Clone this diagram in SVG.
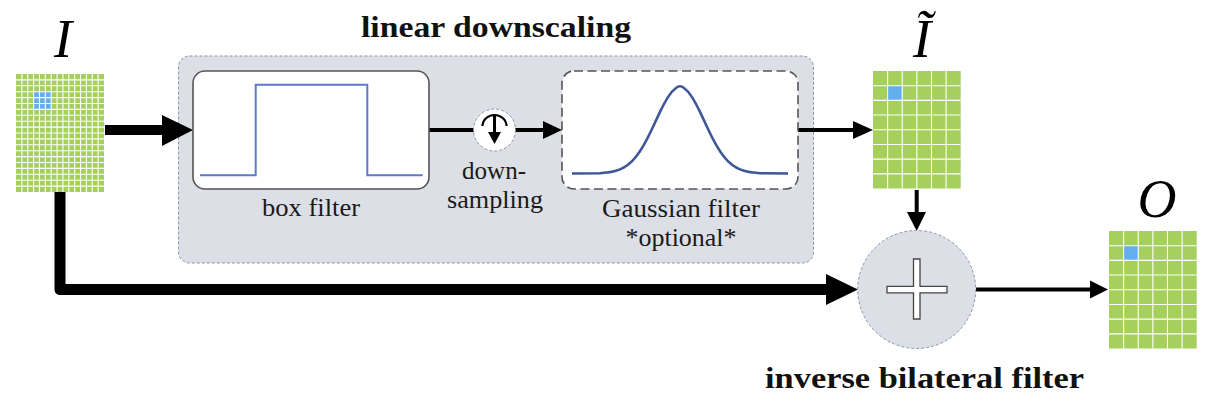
<svg xmlns="http://www.w3.org/2000/svg" width="1212" height="410" viewBox="0 0 1212 410">
<style>
text{font-family:"Liberation Serif","Times New Roman",serif;fill:#1a1a1a;text-anchor:middle}
.lab{font-size:25px}
.head{font-size:29px;font-weight:bold;fill:#111}
.math{font-size:54px;font-style:italic;fill:#000}
.green{fill:#a6d05c}
.blue{fill:#62aeee}
.gl{stroke:#fff;fill:none;stroke-width:1.1}
.panel{fill:#dcdfe6;stroke:#8d94ae;stroke-width:1;stroke-dasharray:3 2}
.box{fill:#fff;stroke:#555;stroke-width:1.6}
.wire{fill:none;stroke:#000;stroke-linejoin:round;stroke-linecap:butt}
.tip{fill:#000}
</style>
<defs>
<path id="coarse" class="gl" d="M14.62 0V117.5M29.24 0V117.5M43.86 0V117.5M58.48 0V117.5M73.1 0V117.5M0 14.69H87.7M0 29.38H87.7M0 44.07H87.7M0 58.76H87.7M0 73.45H87.7M0 88.14H87.7M0 102.83H87.7"/>
</defs>
<g id="panel-linear-downscaling">
<rect class="panel" x="178.5" y="56" width="635" height="207" rx="11"/>
<text class="head" x="496" y="37" textLength="270" lengthAdjust="spacingAndGlyphs">linear downscaling</text>
</g>
<g id="input-I">
<text class="math" x="63" y="57">I</text>
<rect class="green" x="16" y="74" width="88" height="118"/>
<rect class="blue" x="33.6" y="91.7" width="17.6" height="17.7"/>
<path class="gl" d="M21.87 74V192M27.73 74V192M33.6 74V192M39.47 74V192M45.33 74V192M51.2 74V192M57.07 74V192M62.93 74V192M68.8 74V192M74.67 74V192M80.53 74V192M86.4 74V192M92.27 74V192M98.13 74V192M16 79.9H104M16 85.8H104M16 91.7H104M16 97.6H104M16 103.5H104M16 109.4H104M16 115.3H104M16 121.2H104M16 127.1H104M16 133H104M16 138.9H104M16 144.8H104M16 150.7H104M16 156.6H104M16 162.5H104M16 168.4H104M16 174.3H104M16 180.2H104M16 186.1H104"/>
</g>
<g id="connectors">
<path class="wire" stroke-width="10" d="M105 130H165"/>
<polygon class="tip" points="162,115 193,130 162,146"/>
<path class="wire" stroke-width="11" d="M60 192V289.5H830"/>
<polygon class="tip" points="826,274 858,289.5 826,305"/>
<path class="wire" stroke-width="4" d="M429 130H474M515 130H545"/>
<polygon class="tip" points="543,121 562,130 543,139"/>
<path class="wire" stroke-width="4" d="M798 130H855"/>
<polygon class="tip" points="853,121 873,130 853,139"/>
<path class="wire" stroke-width="4" d="M916.7 190V214"/>
<polygon class="tip" points="907,212 926,212 916.7,231"/>
<path class="wire" stroke-width="4" d="M976 289.5H1092"/>
<polygon class="tip" points="1090,280.5 1108,289.5 1090,298.5"/>
</g>
<g id="box-filter">
<rect class="box" x="193" y="71" width="236" height="118" rx="12"/>
<path d="M200 175.3H255.7V84.7H367.3V175.3H422.7" fill="none" stroke="#5b7bc8" stroke-width="2"/>
<text class="lab" x="311" y="216" textLength="98" lengthAdjust="spacingAndGlyphs">box filter</text>
</g>
<g id="down-sampling">
<circle cx="494.5" cy="130" r="21" fill="#fff" stroke="#8d94ae" stroke-width="1" stroke-dasharray="3 2"/>
<path d="M482.5 126A12 11 0 0 1 506.5 126" fill="none" stroke="#000" stroke-width="2.2"/>
<path d="M494.5 116V135" fill="none" stroke="#000" stroke-width="3"/>
<polygon class="tip" points="488,132 501,132 494.5,144"/>
<text class="lab" x="494" y="179" textLength="64" lengthAdjust="spacingAndGlyphs">down-</text>
<text class="lab" x="495" y="208" textLength="96" lengthAdjust="spacingAndGlyphs">sampling</text>
</g>
<g id="gaussian-filter">
<rect class="box" x="562" y="71" width="236" height="118" rx="12" stroke-dasharray="9 4.5"/>
<path fill="none" stroke="#3f5699" stroke-width="2.6" d="M572 173.5L600 173.2Q608 172.5 612 171.75Q616 171 620 169.4Q624 167.8 628 164.75Q632 161.7 636 156.7Q640 151.7 644 144.6Q648 137.5 652 128.95Q656 120.4 660 111.9Q664 103.4 668 97.1Q672 90.8 676 88Q680 84.5 684 88Q688 90.8 692 97.1Q696 103.4 700 111.9Q704 120.4 708 128.95Q712 137.5 716 144.6Q720 151.7 724 156.7Q728 161.7 732 164.75Q736 167.8 740 169.4Q744 171 748 171.75Q752 172.5 760 173.2L788 173.5"/>
<text class="lab" x="681" y="216.5" textLength="158" lengthAdjust="spacingAndGlyphs">Gaussian filter</text>
<text class="lab" x="681" y="246" textLength="111" lengthAdjust="spacingAndGlyphs">*optional*</text>
</g>
<g id="output-I-tilde">
<text class="math" x="922" y="57">Ĩ</text>
<rect class="green" x="873" y="71" width="87.7" height="117.5"/>
<rect class="blue" x="887.6" y="85.7" width="14.6" height="14.7"/>
<use href="#coarse" x="873" y="71"/>
</g>
<g id="inverse-bilateral-filter">
<circle class="panel" cx="916.7" cy="289.5" r="59"/>
<path d="M913.5 259H920V286.3H947V292.8H920V319H913.5V292.8H887V286.3H913.5Z" fill="#fff" stroke="#444" stroke-width="1.3"/>
<text class="head" x="924.5" y="388" textLength="319" lengthAdjust="spacingAndGlyphs">inverse bilateral filter</text>
</g>
<g id="output-O">
<text class="math" x="1157" y="217">O</text>
<rect class="green" x="1109" y="231" width="87.7" height="117.5"/>
<rect class="blue" x="1123.6" y="245.7" width="14.6" height="14.7"/>
<use href="#coarse" x="1109" y="231"/>
</g>
</svg>
